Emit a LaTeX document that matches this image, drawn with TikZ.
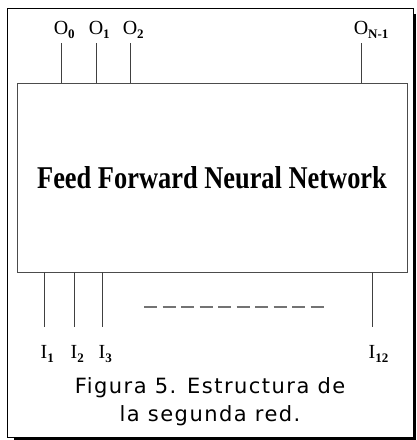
\documentclass[tikz,border=0pt]{standalone}
\usepackage{fontspec}
\setmainfont{Liberation Serif}
\newfontfamily\capfont[LetterSpace=7]{DejaVu Sans}
\usetikzlibrary{positioning}

% letter with a small subscript that does not shift the letter
\newcommand{\pinlbl}[2]{#1\rlap{\raisebox{-4.5pt}{\fontsize{13}{13}\selectfont\bfseries #2}}}

\tikzset{
  pin/.style={line width=0.9pt, black!75},
  pinlabel/.style={anchor=base, inner sep=0pt, font=\fontsize{20}{20}\selectfont},
  caption/.style={anchor=base, inner sep=0pt, font=\capfont\fontsize{21}{24}\selectfont}
}

\begin{document}
\begin{tikzpicture}[x=1pt, y=-1pt]
\useasboundingbox (0,0) rectangle (416,440);
% outer frame with its shadow
\draw[line width=0.7pt] (7,8) rectangle (413,437);
\draw[line width=2pt] (14,438.5) -- (414.5,438.5) -- (414.5,14);

% the network block
\node[draw=black!70, line width=0.9pt, minimum width=390pt, minimum height=189pt, inner sep=0pt]
  (ffnn) at (212,177.5)
  {\scalebox{1}[1.2]{\fontsize{26.4}{30}\selectfont\bfseries Feed Forward Neural Network}};

% outputs
\coordinate (o0) at (61,43);
\coordinate (o1) at (96,43);
\coordinate (o2) at (130,43);
\coordinate (on) at (361,43);
\foreach \c in {o0,o1,o2,on}
  \draw[pin] (\c) -- (ffnn.north -| \c);
\node[pinlabel] (lo0) at (61,34) {\pinlbl{O}{0}};
\node[pinlabel] (lo1) at (96,34) {\pinlbl{O}{1}};
\node[pinlabel] (lo2) at (130,34) {\pinlbl{O}{2}};
\node[pinlabel] (lon) at (361,34) {\pinlbl{O}{N-1}};

% inputs
\coordinate (i1) at (44,327);
\coordinate (i2) at (74,327);
\coordinate (i3) at (102,327);
\coordinate (i12) at (372,327);
\foreach \c in {i1,i2,i3,i12}
  \draw[pin] (ffnn.south -| \c) -- (\c);
\node[pinlabel] (li1) at (44,358) {\pinlbl{I}{1}};
\node[pinlabel] (li2) at (74,358) {\pinlbl{I}{2}};
\node[pinlabel] (li3) at (102,358) {\pinlbl{I}{3}};
\node[pinlabel] (li12) at (372,358) {\pinlbl{I}{12}};

% the inputs left out
\coordinate (dl) at (144,307);
\coordinate (dr) at (326,307);
\draw[black!55, line width=1.5pt, dash pattern=on 13pt off 5.5pt] (dl) -- (dr);

% caption
\node[caption] (cap1) at (210,393) {Figura 5. Estructura de};
\node[caption] (cap2) at (210,421) {la segunda red.};
\end{tikzpicture}
\end{document}
